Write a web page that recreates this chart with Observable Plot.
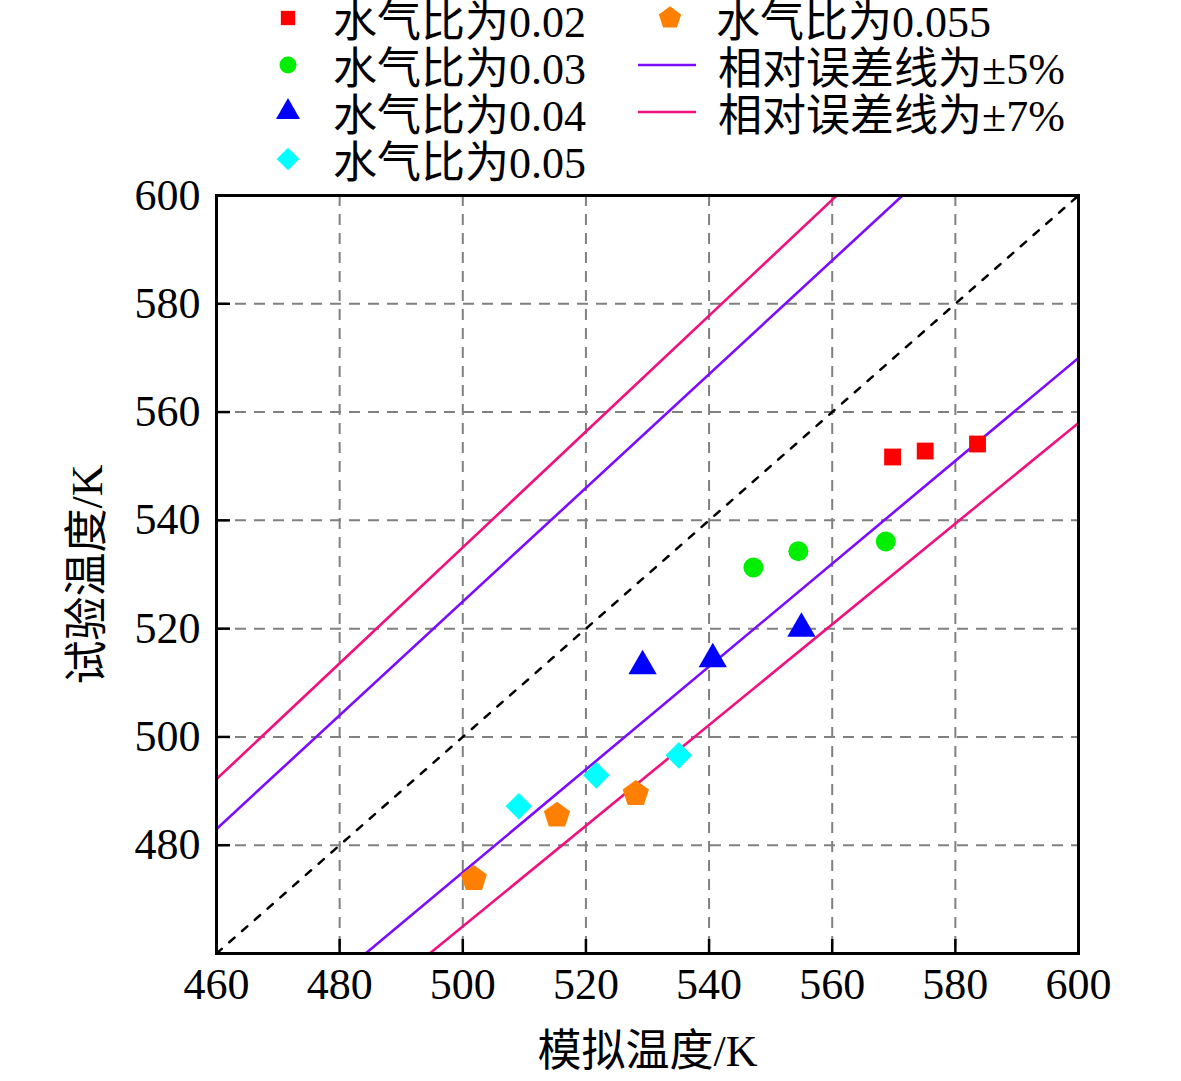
<!DOCTYPE html>
<html><head><meta charset="utf-8">
<script src="https://cdn.jsdelivr.net/npm/d3@7"></script>
<script src="https://cdn.jsdelivr.net/npm/@observablehq/plot@0.6"></script>
<style>
html,body{margin:0;padding:0;background:#fff;}
#wrap{position:relative;width:1181px;height:1081px;font-family:"Liberation Serif","Noto Sans CJK SC",serif;}
#legend{position:absolute;left:0;top:0;width:1181px;height:190px;font-size:44px;color:#000;z-index:2;}
.item{position:absolute;display:flex;align-items:center;height:46px;white-space:nowrap;}
.item svg{flex:none;}
</style></head>
<body><div id="wrap"><div id="legend"></div><div id="chart"></div></div>
<script>
const xTicks = [460, 480, 500, 520, 540, 560, 580, 600];
const yTicks = [480, 500, 520, 540, 560, 580, 600];
const seriesNames = ["水气比为0.02", "水气比为0.03", "水气比为0.04", "水气比为0.05", "水气比为0.055"];
const sim02 = [569.8, 575.1, 583.6];
const exp02 = [551.7, 552.8, 554.1];
const sim03 = [547.2, 554.5, 568.7];
const exp03 = [531.3, 534.3, 536.1];
const sim04 = [529.2, 540.6, 555.0];
const exp04 = [513.1, 514.4, 520.0];
const sim05 = [509.1, 521.7, 535.1];
const exp05 = [487.2, 492.9, 496.6];
const sim055 = [501.8, 515.3, 528.1];
const exp055 = [473.8, 485.5, 489.5];
const errorNames = ["相对误差线为±5%", "相对误差线为±7%"];
const ratios5 = [1.05, 0.95];
const ratios7 = [1.07, 0.93];
const lineEnds = [460, 600];

const colors = ["#ff0000", "#00ee00", "#0000ff", "#00ffff", "#ff8000"];
const lineColors = ["#7b0cff", "#f0117e"];

const pentagon = {
  draw(ctx, size) {
    const r = Math.sqrt(size / 2.378);
    for (let i = 0; i < 5; i++) {
      const a = -Math.PI / 2 + i * 2 * Math.PI / 5;
      const px = r * Math.cos(a), py = r * Math.sin(a);
      if (i === 0) ctx.moveTo(px, py); else ctx.lineTo(px, py);
    }
    ctx.closePath();
  }
};
const symbols = ["square", "circle", "triangle", "diamond2", pentagon];
const radii = [9.5, 10, 10.5, 12, 12];

const groups = [[sim02, exp02], [sim03, exp03], [sim04, exp04], [sim05, exp05], [sim055, exp055]];
const pts = groups.map(([xs, ys]) => xs.map((x, i) => ({x, y: ys[i]})));

const mkLine = r => lineEnds.map(x => ({x, y: r * x}));

const marks = [
  Plot.gridX(xTicks.slice(1, -1), {stroke: "#808080", strokeOpacity: 1, strokeWidth: 2, strokeDasharray: "11,8"}),
  Plot.gridY(yTicks.slice(0, -1), {stroke: "#808080", strokeOpacity: 1, strokeWidth: 2, strokeDasharray: "11,8"}),
  Plot.line(mkLine(1), {x: "x", y: "y", stroke: "#000", strokeWidth: 2.5, strokeDasharray: "7,10", clip: true}),
  ...ratios5.map(r => Plot.line(mkLine(r), {x: "x", y: "y", stroke: lineColors[0], strokeWidth: 2.6, clip: true})),
  ...ratios7.map(r => Plot.line(mkLine(r), {x: "x", y: "y", stroke: lineColors[1], strokeWidth: 2.6, clip: true})),
  ...pts.map((d, i) => Plot.dot(d, {x: "x", y: "y", symbol: symbols[i], r: radii[i], fill: colors[i], stroke: "none"})),
  Plot.axisX(xTicks, {tickSize: 0, tickPadding: 14, fontSize: 44, fill: "#000",
    label: "模拟温度/K", labelAnchor: "center", labelArrow: "none", labelOffset: 112}),
  Plot.axisX(xTicks.slice(1, -1), {tickSize: -14, tickFormat: () => "", strokeWidth: 2.5, stroke: "#000", label: null}),
  Plot.axisY(yTicks, {tickSize: 0, tickPadding: 16, fontSize: 44, fill: "#000",
    label: "试验温度/K", labelAnchor: "center", labelArrow: "none", labelOffset: 146}),
  Plot.axisY(yTicks.slice(0, -1), {tickSize: -14, tickFormat: () => "", strokeWidth: 2.5, stroke: "#000", label: null}),
  Plot.frame({stroke: "#000", strokeWidth: 3})
];

const chart = Plot.plot({
  width: 1181,
  height: 1081,
  marginTop: 195,
  marginBottom: 128,
  marginLeft: 216,
  marginRight: 103,
  style: {fontFamily: '"Liberation Serif","Noto Sans CJK SC",serif', background: "#fff", overflow: "visible"},
  x: {domain: [460, 600]},
  y: {domain: [460, 600]},
  marks
});
document.getElementById("chart").appendChild(chart);

// legend
const legend = document.getElementById("legend");
const symSvg = (i) => {
  const s = d3.create("svg").attr("width", 40).attr("height", 40);
  const sym = typeof symbols[i] === "string" ? ({square: d3.symbolSquare, circle: d3.symbolCircle, triangle: d3.symbolTriangle, diamond2: d3.symbolDiamond2})[symbols[i]] : symbols[i];
  const size = Math.PI * (radii[i] * 0.85) ** 2;
  s.append("path").attr("transform", "translate(20,20)").attr("d", d3.symbol(sym, size)()).attr("fill", colors[i]);
  return s.node();
};
const lineSvg = (c) => {
  const s = d3.create("svg").attr("width", 60).attr("height", 40);
  s.append("line").attr("x1", 0).attr("x2", 58).attr("y1", 20).attr("y2", 20).attr("stroke", c).attr("stroke-width", 2.6);
  return s.node();
};
const addItem = (left, top, icon, text, gap) => {
  const div = document.createElement("div");
  div.className = "item";
  div.style.left = left + "px";
  div.style.top = top + "px";
  div.appendChild(icon);
  const sp = document.createElement("span");
  sp.style.marginLeft = gap + "px";
  sp.textContent = text;
  div.appendChild(sp);
  legend.appendChild(div);
};
seriesNames.slice(0, 4).forEach((n, i) => addItem(268, -5 + i * 47, symSvg(i), n, 25));
addItem(650, -5, symSvg(4), seriesNames[4], 26);
errorNames.forEach((n, i) => addItem(638, 42 + i * 47, lineSvg(lineColors[i]), n, 20));
</script></body></html>
